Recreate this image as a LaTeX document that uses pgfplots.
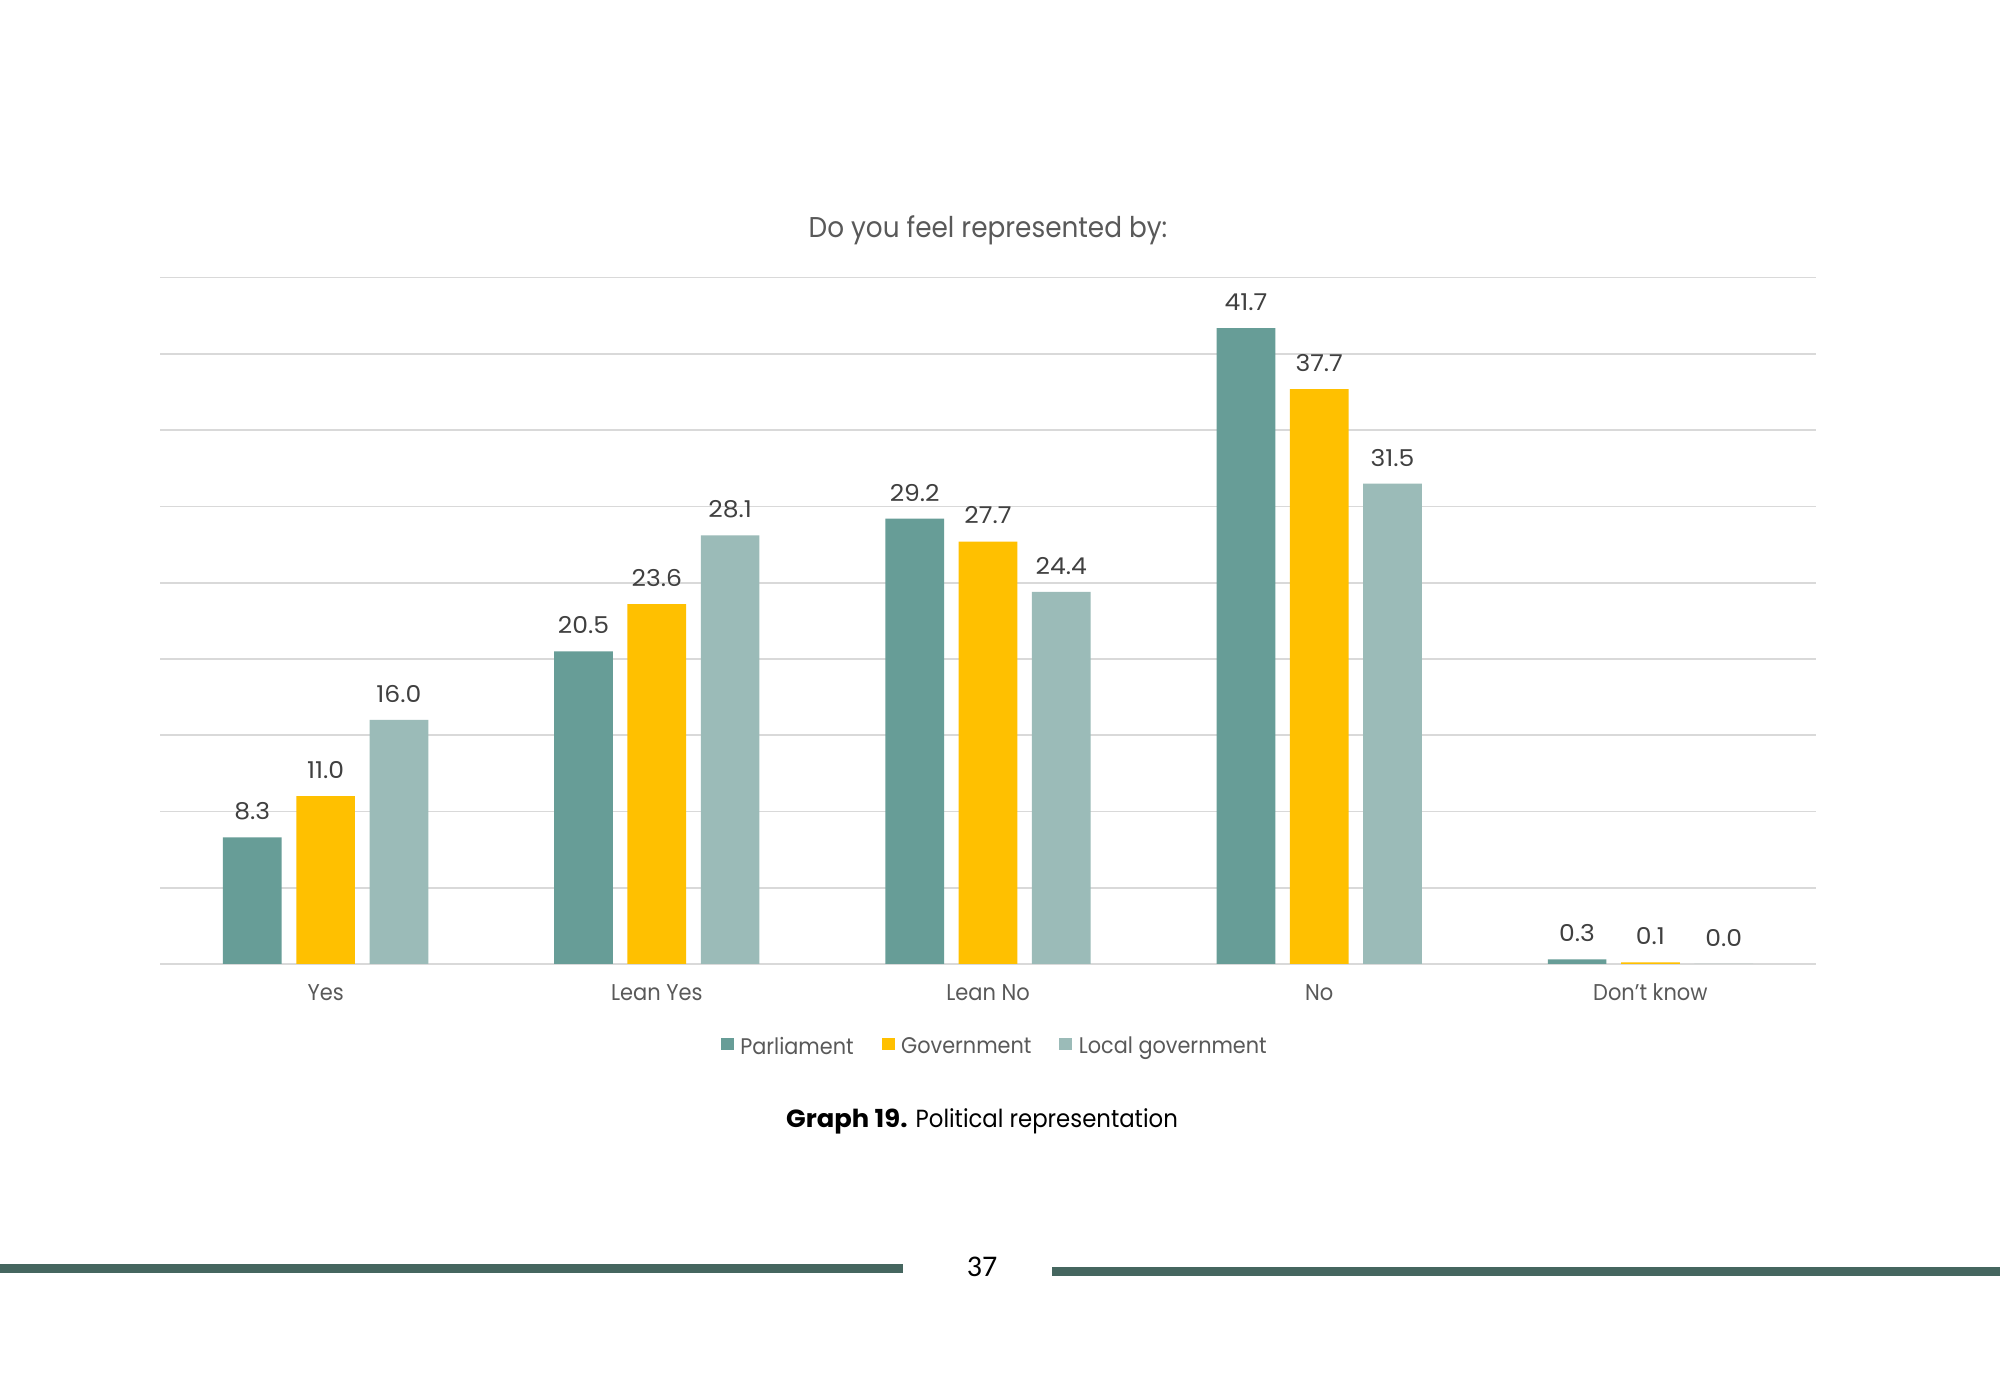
\documentclass[border=0pt]{standalone}
\usepackage{fontspec}
\setmainfont{Poppins}[FakeStretch=0.92]
\newfontfamily\labfont{Poppins}[FakeStretch=1.08]
\newfontfamily\boldcap{Poppins}[FakeStretch=1.04]
\newfontfamily\carlito{Carlito}
\usepackage{pgfplots}
\pgfplotsset{compat=1.18}
\definecolor{cpar}{HTML}{679D97}
\definecolor{cgov}{HTML}{FFC000}
\definecolor{cloc}{HTML}{9BBBB8}
\definecolor{cline}{HTML}{45665F}
\definecolor{ctxt}{HTML}{595959}
\definecolor{clab}{HTML}{404040}
\definecolor{cgrid}{HTML}{D9D9D9}
\pgfplotstableread{
x par gov loc
0 8.3 11.0 16.0
1 20.5 23.6 28.1
2 29.2 27.7 24.4
3 41.7 37.7 31.5
4 0.3 0.1 0.0
}\datatable
\begin{document}
\begin{tikzpicture}
\useasboundingbox (0,0) rectangle (1000pt,690pt);
\fill[white] (0,0) rectangle (1000pt,690pt);
\begin{axis}[
 at={(80pt,208pt)}, anchor=south west,
 scale only axis, width=828pt, height=343.15pt,
 xmin=-0.5, xmax=4.5, ymin=0, ymax=45,
 ytick={0,5,...,45}, yticklabels={},
 xtick={0,1,2,3,4}, xticklabels={Yes,Lean Yes,Lean No,No,Don’t know},
 ymajorgrids, grid style={cgrid, line width=0.8pt},
 axis line style={draw=none}, major tick length=0pt,
 /pgf/number format/assume math mode=true,
 ybar, bar width=29.35pt,
 title={Do you feel represented by:},
 title style={at={(0.5,1)}, anchor=base, yshift=14pt, inner sep=0pt, font=\fontsize{14.3}{16}\selectfont, text=ctxt},
 x tick label style={anchor=base, yshift=-18.5pt, inner sep=0pt, font=\fontsize{11.4}{13}\selectfont, text=ctxt},
 nodes near coords={\pgfmathprintnumber[fixed,fixed zerofill,precision=1]{\pgfplotspointmeta}},
 every node near coord/.append style={anchor=south, inner sep=0pt, yshift=8.5pt, font=\labfont\fontsize{11.6}{13}\selectfont, text=clab},
 legend style={at={(0.5035,-0.121)}, anchor=center, draw=none, fill=none, legend columns=-1,
   font=\fontsize{11.3}{13}\selectfont, text=ctxt, inner sep=0pt, nodes={inner sep=0pt},
   /tikz/every odd column/.append style={column sep=3.25pt},
   /tikz/every even column/.append style={column sep=14pt}},
 legend image code/.code={\fill[#1, draw=none] (0pt,-1.6pt) rectangle (6.5pt,4.4pt);},
]
\addplot[fill=cpar, draw=none, bar shift=-36.65pt] table[x=x, y=par] {\datatable};
\addplot[fill=cgov, draw=none, bar shift=0pt] table[x=x, y=gov] {\datatable};
\addplot[fill=cloc, draw=none, bar shift=36.65pt] table[x=x, y=loc] {\datatable};
\legend{Parliament, Government, Local government}
\end{axis}
\node[anchor=base, inner sep=0pt, font=\fontsize{12.4}{14}\selectfont] at (491pt,126pt) {{\boldcap\bfseries Graph 19.} Political representation};
\node[anchor=base, inner sep=0pt, font=\carlito\fontsize{15}{18}\selectfont] at (491pt,52pt) {37};
\fill[cline] (0,53.5pt) rectangle (451.35pt,58pt);
\fill[cline] (525.85pt,52.15pt) rectangle (1000pt,56.65pt);
\end{tikzpicture}
\end{document}
